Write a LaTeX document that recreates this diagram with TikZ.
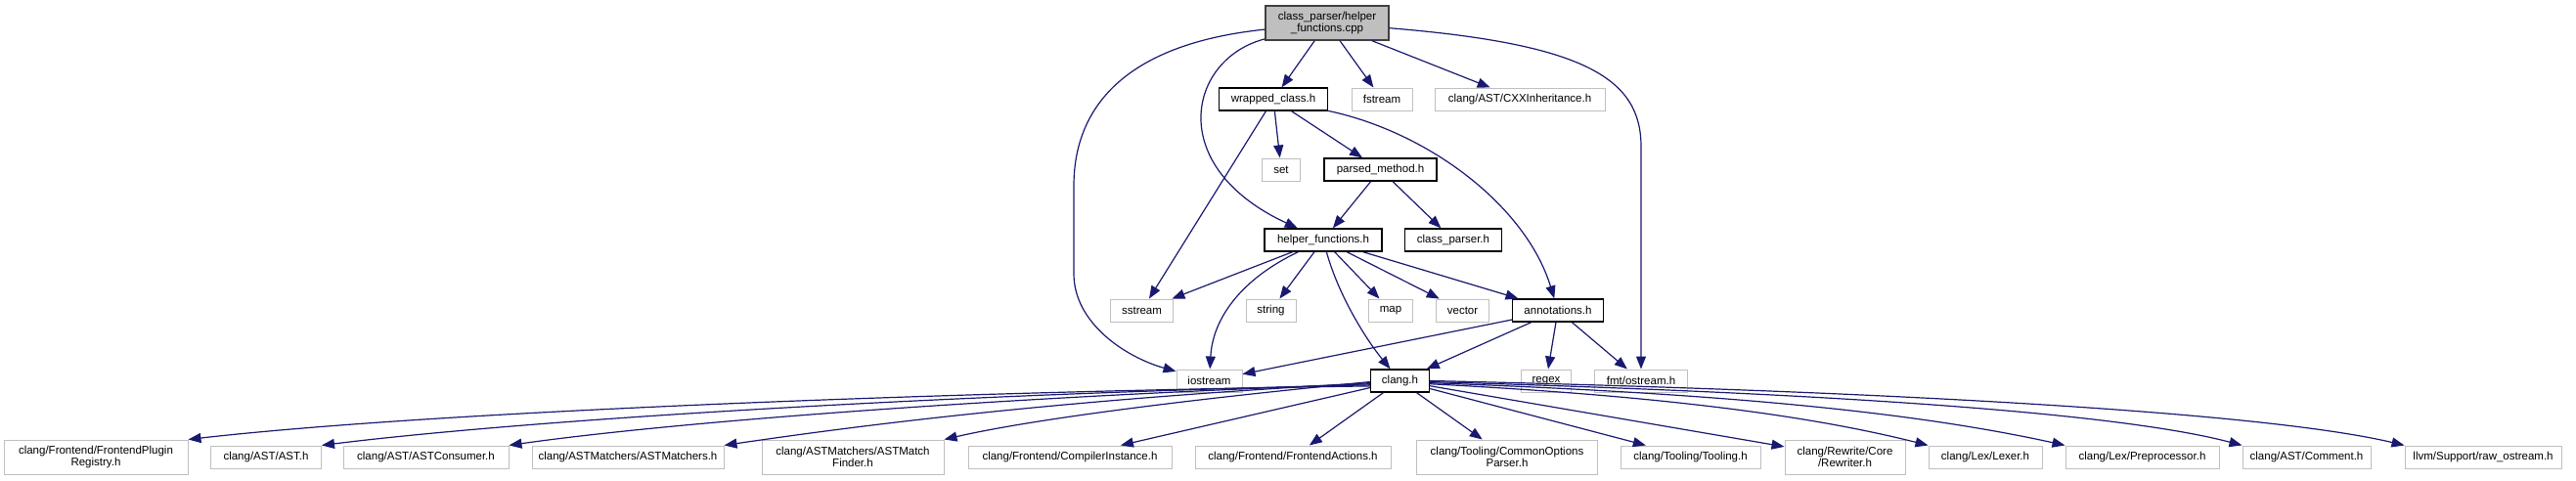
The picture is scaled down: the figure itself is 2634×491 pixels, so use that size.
\documentclass[tikz,border=0pt]{standalone}
\usepackage{fontspec}
\setmainfont{Liberation Sans}
\usetikzlibrary{arrows.meta}
\definecolor{edgeblue}{HTML}{191970}
\definecolor{extgrey}{HTML}{BFBFBF}

\begin{document}
\begin{tikzpicture}[x=1pt, y=-1pt, >={Triangle[length=13pt,width=10pt]},
  box/.style={align=center, inner sep=0pt, minimum height=23pt, fill=white,
    font=\fontsize{11.5}{12}\selectfont},
  projbox/.style={box, draw=black, line width=1.3pt},
  extbox/.style={box, draw=extgrey, line width=1pt},
  tallbox/.style={extbox, minimum height=35pt},
  rootbox/.style={box, draw=black!75, fill=extgrey, line width=1.3pt, minimum height=35pt},
  dep/.style={->, edgeblue, line width=1.2pt}]

\useasboundingbox (0,0) rectangle (2634,491);

\node[rootbox, minimum width=126pt] (root) at (1357,23.5) {class\_parser/helper\\\_functions.cpp};

\node[projbox, minimum width=111pt] (wrapped) at (1302,101.5) {wrapped\_class.h};
\node[extbox, minimum width=62pt] (fstream) at (1413,101.5) {fstream};
\node[extbox, minimum width=174pt] (cxxinh) at (1554,101.5) {clang/AST/CXXInheritance.h};

\node[extbox, minimum width=39pt] (set) at (1310,173.5) {set};
\node[projbox, minimum width=115pt] (parsed) at (1411.5,173.5) {parsed\_method.h};

\node[projbox, minimum width=120pt] (helper) at (1353,245.5) {helper\_functions.h};
\node[projbox, minimum width=99pt] (classparser) at (1486,245.5) {class\_parser.h};

\node[extbox, minimum width=64pt] (sstream) at (1167.5,317.5) {sstream};
\node[extbox, minimum width=51pt] (string) at (1299.5,317.5) {string};
\node[extbox, minimum width=45pt] (map) at (1422,317.5) {map};
\node[extbox, minimum width=54pt] (vector) at (1495.5,317.5) {vector};
\node[projbox, minimum width=93pt] (annot) at (1593,317.5) {annotations.h};

\node[extbox, minimum width=67pt] (iostream) at (1236.5,389.5) {iostream};
\node[projbox, minimum width=60pt] (clangh) at (1431.5,389.5) {clang.h};
\node[extbox, minimum width=51pt] (regex) at (1581,389.5) {regex};
\node[extbox, minimum width=95pt] (fmtos) at (1678,389.5) {fmt/ostream.h};

\node[tallbox, minimum width=188pt] (plugin) at (98,467.5) {clang/Frontend/FrontendPlugin\\Registry.h};
\node[extbox, minimum width=113pt] (ast) at (272,467.5) {clang/AST/AST.h};
\node[extbox, minimum width=169pt] (consumer) at (435.5,467.5) {clang/AST/ASTConsumer.h};
\node[extbox, minimum width=196pt] (matchers) at (642,467.5) {clang/ASTMatchers/ASTMatchers.h};
\node[tallbox, minimum width=186pt] (finder) at (872,467.5) {clang/ASTMatchers/ASTMatch\\Finder.h};
\node[extbox, minimum width=208pt] (compiler) at (1094,467.5) {clang/Frontend/CompilerInstance.h};
\node[extbox, minimum width=200pt] (factions) at (1322,467.5) {clang/Frontend/FrontendActions.h};
\node[tallbox, minimum width=185pt] (options) at (1541,467.5) {clang/Tooling/CommonOptions\\Parser.h};
\node[extbox, minimum width=143pt] (tooling) at (1728.5,467.5) {clang/Tooling/Tooling.h};
\node[tallbox, minimum width=123pt] (rewriter) at (1886.5,467.5) {clang/Rewrite/Core\\/Rewriter.h};
\node[extbox, minimum width=116pt] (lexer) at (2030,467.5) {clang/Lex/Lexer.h};
\node[extbox, minimum width=157pt] (preproc) at (2190.5,467.5) {clang/Lex/Preprocessor.h};
\node[extbox, minimum width=131pt] (comment) at (2358.5,467.5) {clang/AST/Comment.h};
\node[extbox, minimum width=160pt] (rawos) at (2539,467.5) {llvm/Support/raw\_ostream.h};

\draw[dep] (root) -- (wrapped);
\draw[dep] (root) -- (fstream);
\draw[dep] (root) -- (cxxinh);
\draw[dep] (root) .. controls (1215,60) and (1190,170) .. (helper);
\draw[dep] (root) .. controls (1150,45) and (1098,110) .. (1098,190) -- (1098,280)
  .. controls (1098,330) and (1150,365) .. (iostream);
\draw[dep] (root) .. controls (1620,45) and (1678,80) .. (1678,150) -- (fmtos);

\draw[dep] (wrapped) -- (set);
\draw[dep] (wrapped) -- (parsed);
\draw[dep] (wrapped) -- (sstream);
\draw[dep] (wrapped) .. controls (1460,135) and (1560,210) .. (annot);

\draw[dep] (parsed) -- (helper);
\draw[dep] (parsed) -- (classparser);

\draw[dep] (helper) -- (sstream);
\draw[dep] (helper) .. controls (1270,285) and (1240,325) .. (iostream);
\draw[dep] (helper) -- (string);
\draw[dep] (helper) .. controls (1368,300) and (1395,345) .. (clangh);
\draw[dep] (helper) -- (map);
\draw[dep] (helper) -- (vector);
\draw[dep] (helper) -- (annot);

\draw[dep] (annot) -- (iostream);
\draw[dep] (annot) -- (clangh);
\draw[dep] (annot) -- (regex);
\draw[dep] (annot) -- (fmtos);

\draw[dep] (clangh.190) .. controls (1000,400) and (450,420) .. (plugin.north east);
\draw[dep] (clangh.188) .. controls (1000,402) and (550,428) .. (ast.north east);
\draw[dep] (clangh.186) .. controls (1050,405) and (700,430) .. (consumer.north east);
\draw[dep] (clangh.184) .. controls (1100,408) and (900,432) .. (matchers.north east);
\draw[dep] (clangh.182) .. controls (1200,410) and (1050,430) .. (finder.north east);
\draw[dep] (clangh) -- (compiler);
\draw[dep] (clangh) -- (factions);
\draw[dep] (clangh) -- (options);
\draw[dep] (clangh) -- (tooling);
\draw[dep] (clangh) -- (rewriter);
\draw[dep] (clangh.354) .. controls (1700,405) and (1850,425) .. (lexer.north west);
\draw[dep] (clangh.356) .. controls (1750,402) and (1950,420) .. (preproc.north west);
\draw[dep] (clangh.358) .. controls (1800,400) and (2150,418) .. (comment.north west);
\draw[dep] (clangh.0) .. controls (1850,398) and (2300,418) .. (rawos.north west);

\end{tikzpicture}
\end{document}
